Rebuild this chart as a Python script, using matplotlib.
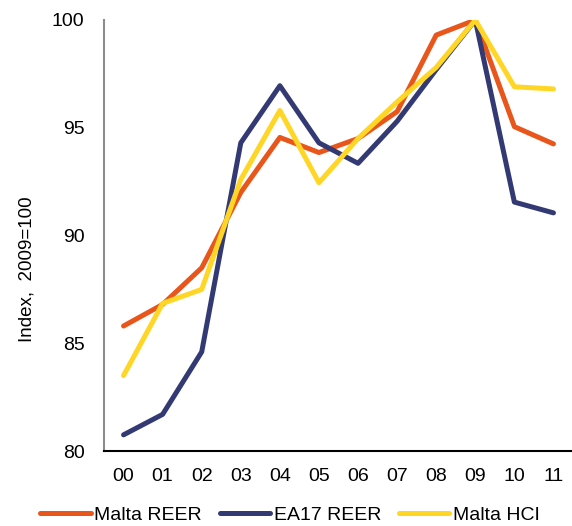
import matplotlib
matplotlib.use("Agg")
import matplotlib.pyplot as plt

plt.rcParams['font.family'] = ['Liberation Sans', 'DejaVu Sans']

years = ["00", "01", "02", "03", "04", "05", "06", "07", "08", "09", "10", "11"]
malta_reer = [85.8, 86.8, 88.5, 92.0, 94.55, 93.85, 94.5, 95.75, 99.3, 100.0, 95.05, 94.25]
ea17_reer = [80.75, 81.7, 84.6, 94.3, 96.95, 94.3, 93.35, 95.3, 97.7, 100.0, 91.55, 91.05]
malta_hci = [83.5, 86.85, 87.5, 92.6, 95.8, 92.45, 94.5, 96.2, 97.8, 100.0, 96.9, 96.8]

W, H = 572, 526
fig = plt.figure(figsize=(W / 100, H / 100), dpi=100)
ax = fig.add_axes([104 / W, 1 - 451 / H, 469 / W, 431 / H])

x = range(len(years))
ax.plot(x, malta_reer, color='#E8561B', lw=3.6, label='Malta REER', solid_capstyle='round')
ax.plot(x, ea17_reer, color='#333A73', lw=3.6, label='EA17 REER', solid_capstyle='round')
ax.plot(x, malta_hci, color='#FFD625', lw=3.6, label='Malta HCI', solid_capstyle='round')

ax.set_xlim(-0.5, 11.5)
ax.set_ylim(80, 100)
ax.set_yticks([80, 85, 90, 95, 100])
ax.set_xticks(list(x))
ax.set_xticklabels(years)
ax.tick_params(length=0, labelsize=14)
ax.tick_params(axis='x', pad=12)
ax.tick_params(axis='y', pad=14)
ax.spines['top'].set_visible(False)
ax.spines['right'].set_visible(False)
ax.spines['left'].set_color('#8c8c8c')
ax.spines['left'].set_linewidth(1.5)
ax.spines['bottom'].set_color('black')
ax.spines['bottom'].set_linewidth(1.5)
ax.set_ylabel('Index,  2009=100', fontsize=13.5)
ax.yaxis.set_label_coords(-(104 - 36) / 469, (451 - 269) / 431)

fig.legend(loc='center left', bbox_to_anchor=(40 / W, 1 - 515 / H), ncol=3, frameon=False,
           fontsize=14, handlelength=2.6, handletextpad=0.2, columnspacing=0.9,
           borderpad=0, borderaxespad=0)

fig.savefig('out.png', dpi=100)
